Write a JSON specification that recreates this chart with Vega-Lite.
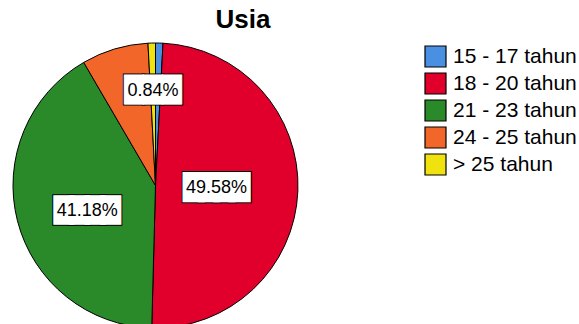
{
  "$schema": "https://vega.github.io/schema/vega-lite/v6.json",
  "width": 285,
  "height": 277,
  "autosize": {"type": "none"},
  "padding": {"left": 13, "top": 47, "right": 281, "bottom": 0},
  "background": "white",
  "title": {"text": "Usia", "anchor": "middle", "frame": "group", "dx": 87.5, "offset": 8, "font": "Liberation Sans", "fontSize": 26, "fontWeight": "bold", "color": "black"},
  "config": {"view": {"stroke": null}},
  "data": {"values": [
    {"Usia": "15 - 17 tahun", "n": 1, "label": "0.84%"},
    {"Usia": "18 - 20 tahun", "n": 59, "label": "49.58%"},
    {"Usia": "21 - 23 tahun", "n": 49, "label": "41.18%"},
    {"Usia": "24 - 25 tahun", "n": 9, "label": "7.56%"},
    {"Usia": "> 25 tahun", "n": 1, "label": "0.84%"}
  ]},
  "encoding": {
    "theta": {"field": "n", "type": "quantitative", "stack": true},
    "order": {"field": "Usia", "type": "ordinal", "sort": "ascending"}
  },
  "layer": [
    {
      "mark": {"type": "arc", "outerRadius": 142.5, "stroke": "black", "strokeWidth": 1},
      "encoding": {
        "color": {"field": "Usia", "type": "nominal",
          "scale": {"domain": ["15 - 17 tahun", "18 - 20 tahun", "21 - 23 tahun", "24 - 25 tahun", "> 25 tahun"],
                    "range": ["#4A90E2", "#E0002B", "#2A8A2A", "#F3662A", "#F0E20F"]},
          "legend": {"title": null, "orient": "none", "legendX": 411, "legendY": -2, "symbolType": "square", "symbolSize": 441,
                     "symbolStrokeColor": "black", "symbolStrokeWidth": 1.2, "labelFont": "Liberation Sans", "labelFontSize": 21,
                     "labelColor": "black", "labelOffset": 6, "rowPadding": 0, "symbolOpacity": 1}}
      }
    },
    {
      "mark": {"type": "text", "radius": 95, "font": "DejaVu Sans", "fontSize": 24.6, "fill": "black", "stroke": "black", "strokeWidth": 2.9, "strokeJoin": "miter", "align": "center", "baseline": "middle"},
      "encoding": {"detail": {"field": "Usia"}, "text": {"condition": {"test": "datum.Usia === '> 25 tahun'", "value": "███"}, "value": ""}}
    },
    {
      "mark": {"type": "text", "radius": 95, "font": "DejaVu Sans", "fontSize": 24.6, "fill": "white", "stroke": "white", "strokeWidth": 0.9, "strokeJoin": "miter", "align": "center", "baseline": "middle"},
      "encoding": {"detail": {"field": "Usia"}, "text": {"condition": {"test": "datum.Usia === '> 25 tahun'", "value": "███"}, "value": ""}}
    },
    {
      "mark": {"type": "text", "radius": 95, "font": "Liberation Sans", "fontSize": 18, "fill": "black", "align": "center", "baseline": "middle"},
      "encoding": {"detail": {"field": "Usia"}, "text": {"condition": {"test": "datum.Usia === '> 25 tahun'", "field": "label"}, "value": ""}}
    },
    {
      "mark": {"type": "text", "radius": 61, "font": "DejaVu Sans", "fontSize": 19.8, "fill": "black", "stroke": "black", "strokeWidth": 8.8, "strokeJoin": "miter", "align": "center", "baseline": "middle"},
      "encoding": {"detail": {"field": "Usia"}, "text": {"condition": {"test": "datum.Usia === '18 - 20 tahun'", "value": "████"}, "value": ""}}
    },
    {
      "mark": {"type": "text", "radius": 61, "font": "DejaVu Sans", "fontSize": 19.8, "fill": "white", "stroke": "white", "strokeWidth": 6.8, "strokeJoin": "miter", "align": "center", "baseline": "middle"},
      "encoding": {"detail": {"field": "Usia"}, "text": {"condition": {"test": "datum.Usia === '18 - 20 tahun'", "value": "████"}, "value": ""}}
    },
    {
      "mark": {"type": "text", "radius": 61, "font": "Liberation Sans", "fontSize": 18, "fill": "black", "align": "center", "baseline": "middle"},
      "encoding": {"detail": {"field": "Usia"}, "text": {"condition": {"test": "datum.Usia === '18 - 20 tahun'", "field": "label"}, "value": ""}}
    },
    {
      "mark": {"type": "text", "radius": 72.6, "dx": 2, "dy": 7, "font": "DejaVu Sans", "fontSize": 20.3, "fill": "black", "stroke": "black", "strokeWidth": 7.3, "strokeJoin": "miter", "align": "center", "baseline": "middle"},
      "encoding": {"detail": {"field": "Usia"}, "text": {"condition": {"test": "datum.Usia === '21 - 23 tahun'", "value": "████"}, "value": ""}}
    },
    {
      "mark": {"type": "text", "radius": 72.6, "dx": 2, "dy": 7, "font": "DejaVu Sans", "fontSize": 20.3, "fill": "white", "stroke": "white", "strokeWidth": 5.3, "strokeJoin": "miter", "align": "center", "baseline": "middle"},
      "encoding": {"detail": {"field": "Usia"}, "text": {"condition": {"test": "datum.Usia === '21 - 23 tahun'", "value": "████"}, "value": ""}}
    },
    {
      "mark": {"type": "text", "radius": 72.6, "dx": 2, "dy": 7, "font": "Liberation Sans", "fontSize": 18, "fill": "black", "align": "center", "baseline": "middle"},
      "encoding": {"detail": {"field": "Usia"}, "text": {"condition": {"test": "datum.Usia === '21 - 23 tahun'", "field": "label"}, "value": ""}}
    }
  ]
}
